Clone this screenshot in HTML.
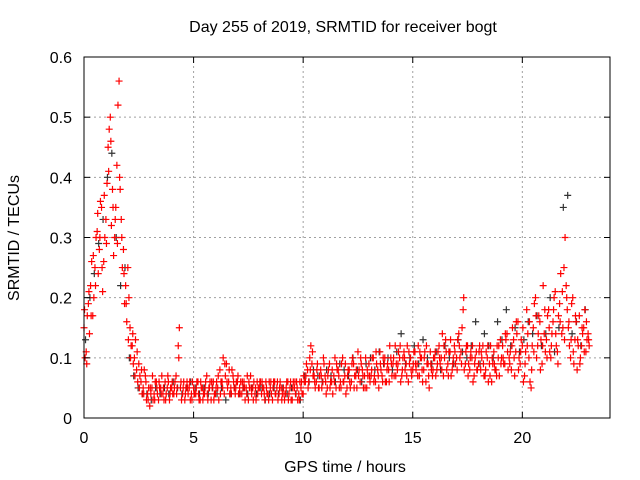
<!DOCTYPE html>
<html><head><meta charset="utf-8"><style>
body{margin:0;background:#fff}
svg{display:block;font-family:"Liberation Sans",sans-serif}
</style></head><body>
<svg id="chart" width="640" height="480" viewBox="0 0 640 480">
<rect width="640" height="480" fill="#fff"/>
<text x="343" y="32" text-anchor="middle" font-size="16" fill="#000">Day 255 of 2019, SRMTID for receiver bogt</text>
<g id="grid"></g>
<g id="black"></g>
<g id="red"></g>
<g id="axes"></g>
<text x="345" y="472" text-anchor="middle" font-size="16">GPS time / hours</text>
<text transform="translate(19,238) rotate(-90)" text-anchor="middle" font-size="16">SRMTID / TECUs</text>
</svg>
<script>
const xTicks=[0,5,10,15,20];
const yTicks=[0,0.1,0.2,0.3,0.4,0.5,0.6];
const yTickLabels=["0","0.1","0.2","0.3","0.4","0.5","0.6"];
const step=0.1;
const redA=[0.15,0.11,0.19,0.22,0.17,0.25,0.31,0.28,0.35,0.26,0.33,0.45,0.50,0.38,0.30,0.42,0.56,0.33,0.28,0.22,0.25,
0.15,0.12,0.10,0.08,0.09,0.06,0.05,0.07,0.04,0.02,
0.05,0.04,0.06,0.03,0.05,0.04,0.06,0.05,0.03,0.05,
0.04,0.07,0.12,0.05,0.04,0.03,0.06,0.05,0.04,0.05,
0.04,0.06,0.03,0.05,0.04,0.07,0.05,0.03,0.06,0.04,
0.05,0.08,0.06,0.04,0.09,0.06,0.05,0.07,0.04,0.06,
0.05,0.04,0.06,0.05,0.03,0.07,0.05,0.04,0.06,0.05,
0.04,0.05,0.06,0.04,0.05,0.03,0.06,0.05,0.04,0.05,
0.05,0.04,0.06,0.05,0.03,0.05,0.06,0.04,0.05,0.04,
0.06,0.08,0.10,0.09,0.07,0.06,0.05,0.08,0.06,0.07,
0.05,0.09,0.06,0.07,0.05,0.08,0.06,0.10,0.07,0.05,
0.08,0.06,0.09,0.07,0.11,0.06,0.08,0.07,0.05,0.09,
0.07,0.10,0.06,0.08,0.11,0.07,0.09,0.06,0.08,0.10,
0.09,0.12,0.08,0.10,0.07,0.11,0.09,0.06,0.10,0.08,
0.11,0.09,0.07,0.10,0.08,0.06,0.09,0.11,0.07,0.10,
0.08,0.12,0.10,0.07,0.13,0.09,0.11,0.08,0.12,0.10,
0.14,0.11,0.18,0.09,0.12,0.08,0.10,0.07,0.11,0.09,
0.08,0.12,0.07,0.10,0.09,0.06,0.11,0.08,0.10,0.13,
0.12,0.09,0.14,0.10,0.08,0.13,0.11,0.16,0.09,0.12,
0.07,0.18,0.10,0.05,0.15,0.20,0.12,0.16,0.09,0.14,
0.13,0.18,0.10,0.16,0.21,0.11,0.19,0.14,0.25,0.22,
0.15,0.10,0.20,0.13,0.08,0.17,0.12,0.15,0.11,0.14];
const redB=[0.10,0.17,0.14,0.26,0.20,0.30,0.24,0.36,0.21,0.30,0.39,0.48,0.32,0.27,0.35,0.52,0.38,0.25,0.19,0.16,0.20,
0.12,0.09,0.13,0.06,0.07,0.04,0.08,0.03,0.05,0.04,
0.03,0.06,0.04,0.05,0.07,0.03,0.04,0.06,0.05,0.04,
0.06,0.05,0.15,0.03,0.06,0.05,0.04,0.03,0.06,0.04,
0.06,0.03,0.05,0.04,0.06,0.03,0.06,0.05,0.04,0.06,
0.03,0.06,0.10,0.07,0.05,0.04,0.08,0.05,0.06,0.04,
0.06,0.05,0.03,0.07,0.05,0.04,0.06,0.03,0.05,0.06,
0.05,0.03,0.04,0.06,0.04,0.06,0.04,0.03,0.06,0.04,
0.03,0.06,0.04,0.03,0.06,0.04,0.03,0.06,0.04,0.06,
0.09,0.06,0.12,0.07,0.05,0.09,0.07,0.05,0.09,0.04,
0.08,0.06,0.04,0.10,0.08,0.05,0.09,0.06,0.04,0.08,
0.05,0.10,0.07,0.05,0.08,0.09,0.05,0.10,0.07,0.06,
0.10,0.07,0.09,0.05,0.08,0.10,0.06,0.09,0.12,0.07,
0.07,0.09,0.11,0.06,0.10,0.08,0.12,0.09,0.07,0.11,
0.08,0.12,0.10,0.06,0.11,0.09,0.05,0.08,0.10,0.07,
0.11,0.09,0.14,0.10,0.08,0.11,0.07,0.10,0.09,0.13,
0.10,0.15,0.08,0.12,0.09,0.11,0.06,0.10,0.08,0.12,
0.10,0.07,0.11,0.06,0.12,0.09,0.08,0.12,0.07,0.10,
0.09,0.13,0.08,0.11,0.15,0.07,0.14,0.10,0.13,0.06,
0.11,0.14,0.06,0.12,0.19,0.10,0.17,0.13,0.22,0.11,
0.17,0.11,0.14,0.20,0.12,0.17,0.24,0.15,0.30,0.18,
0.12,0.19,0.09,0.16,0.12,0.10,0.14,0.18,0.13,0.12];
const redC=[0.18,0.09,0.21,0.17,0.27,0.22,0.34,0.30,0.25,0.37,0.29,0.41,0.46,0.35,0.33,0.29,0.40,0.30,0.24,0.19,0.13,
0.10,0.14,0.07,0.11,0.05,0.08,0.04,0.06,0.03,0.05,
0.07,0.03,0.05,0.06,0.04,0.05,0.03,0.07,0.04,0.06,
0.05,0.04,0.10,0.06,0.05,0.04,0.05,0.06,0.03,0.04,
0.05,0.04,0.06,0.03,0.05,0.04,0.05,0.06,0.03,0.05,
0.07,0.04,0.05,0.09,0.06,0.08,0.04,0.06,0.05,0.07,
0.04,0.06,0.05,0.04,0.06,0.05,0.03,0.05,0.04,0.06,
0.06,0.04,0.05,0.03,0.06,0.05,0.04,0.06,0.05,0.03,
0.04,0.05,0.03,0.06,0.05,0.06,0.05,0.03,0.06,0.07,
0.07,0.05,0.08,0.11,0.06,0.08,0.05,0.07,0.10,0.06,
0.07,0.05,0.08,0.06,0.09,0.07,0.05,0.06,0.09,0.07,
0.06,0.09,0.05,0.08,0.07,0.10,0.07,0.05,0.08,0.07,
0.08,0.06,0.11,0.07,0.09,0.06,0.10,0.08,0.06,0.09,
0.10,0.07,0.09,0.12,0.08,0.10,0.07,0.11,0.08,0.09,
0.09,0.07,0.11,0.08,0.10,0.12,0.07,0.09,0.08,0.11,
0.09,0.10,0.08,0.12,0.11,0.07,0.13,0.09,0.11,0.08,
0.12,0.09,0.20,0.11,0.07,0.10,0.12,0.09,0.08,0.11,
0.11,0.09,0.08,0.12,0.07,0.10,0.09,0.07,0.12,0.09,
0.10,0.14,0.11,0.09,0.12,0.10,0.16,0.08,0.11,0.15,
0.09,0.12,0.16,0.08,0.11,0.17,0.14,0.08,0.12,0.18,
0.10,0.15,0.12,0.18,0.14,0.09,0.16,0.21,0.13,0.20,
0.16,0.13,0.11,0.17,0.13,0.09,0.15,0.11,0.16,0.13];
const blackVals=[0.13,0.20,0.24,0.29,0.33,0.40,0.44,0.30,0.22,0.25,0.10,0.07,0.05,0.04,0.04,0.03,0.05,0.04,0.05,0.04,0.06,0.05,0.04,0.05,0.06,0.05,0.04,0.05,0.04,0.05,0.04,0.05,0.03,0.04,0.05,0.04,0.05,0.04,0.05,0.04,0.05,0.03,0.04,0.05,0.04,0.05,0.04,0.05,0.04,0.03,0.07,0.06,0.08,0.07,0.06,0.08,0.07,0.06,0.09,0.08,0.07,0.10,0.08,0.06,0.09,0.10,0.08,0.11,0.09,0.10,0.08,0.11,0.14,0.09,0.10,0.12,0.09,0.13,0.10,0.09,0.11,0.08,0.12,0.10,0.09,0.13,0.11,0.10,0.12,0.16,0.09,0.14,0.12,0.10,0.16,0.13,0.18,0.12,0.15,0.11,0.13,0.16,0.14,0.17,0.12,0.14,0.20,0.11,0.15,0.35,0.37,0.14,0.16,0.12,0.18];
const blackStep=0.2;

const X0=84,X1=610,Y0=418,Y1=57,XMAX=24,YMAX=0.6;
const xs=v=>X0+(X1-X0)*v/XMAX;
const ys=v=>Y0-(Y0-Y1)*v/YMAX;
const NS="http://www.w3.org/2000/svg";
function mk(tag,attrs,parent){const e=document.createElementNS(NS,tag);for(const k in attrs)e.setAttribute(k,attrs[k]);parent.appendChild(e);return e;}
const grid=document.getElementById('grid'),axes=document.getElementById('axes');
xTicks.forEach(t=>{
  if(t>0){const g=mk('line',{x1:xs(t),x2:xs(t),y1:Y0,y2:Y1,stroke:'#a0a0a0','stroke-dasharray':'2,3'},grid);
  
  }
  mk('line',{x1:xs(t),x2:xs(t),y1:Y0,y2:Y0-6,stroke:'#000'},axes);
  mk('line',{x1:xs(t),x2:xs(t),y1:Y1,y2:Y1+6,stroke:'#000'},axes);
  const l=mk('text',{x:xs(t),y:Y0+25,'text-anchor':'middle','font-size':16},axes);l.textContent=t;
  
  
});
yTicks.forEach((t,i)=>{
  if(t>0&&t<YMAX){const g=mk('line',{x1:X0,x2:X1,y1:ys(t),y2:ys(t),stroke:'#a0a0a0','stroke-dasharray':'2,3'},grid);
  
  }
  mk('line',{x1:X0,x2:X0+6,y1:ys(t),y2:ys(t),stroke:'#000'},axes);
  mk('line',{x1:X1,x2:X1-6,y1:ys(t),y2:ys(t),stroke:'#000'},axes);
  const l=mk('text',{x:X0-12,y:ys(t)+6,'text-anchor':'end','font-size':16},axes);l.textContent=yTickLabels[i];
  
  
});
mk('rect',{x:X0,y:Y1,width:X1-X0,height:Y0-Y1,fill:'none',stroke:'#000'},axes);
function plus(g,x,y,c){const p=mk('path',{d:`M${x-3.5},${y}h7M${x},${y-3.5}v7`,stroke:c,'stroke-width':1.2},g);return p;}
const bg=document.getElementById('black'),rg=document.getElementById('red');
blackVals.forEach((v,i)=>{const p=plus(bg,xs(i*blackStep+0.07),ys(v),'#333');
  
  });
redA.forEach((v,i)=>{const p=plus(rg,xs(i*step),ys(v),'#f00');
  
  });
redB.forEach((v,i)=>{const p=plus(rg,xs(i*step+0.05),ys(v),'#f00');
  
  });
redC.forEach((v,i)=>{const p=plus(rg,xs(i*step+0.025),ys(v),'#f00');
  
  });
</script>
</body></html>
